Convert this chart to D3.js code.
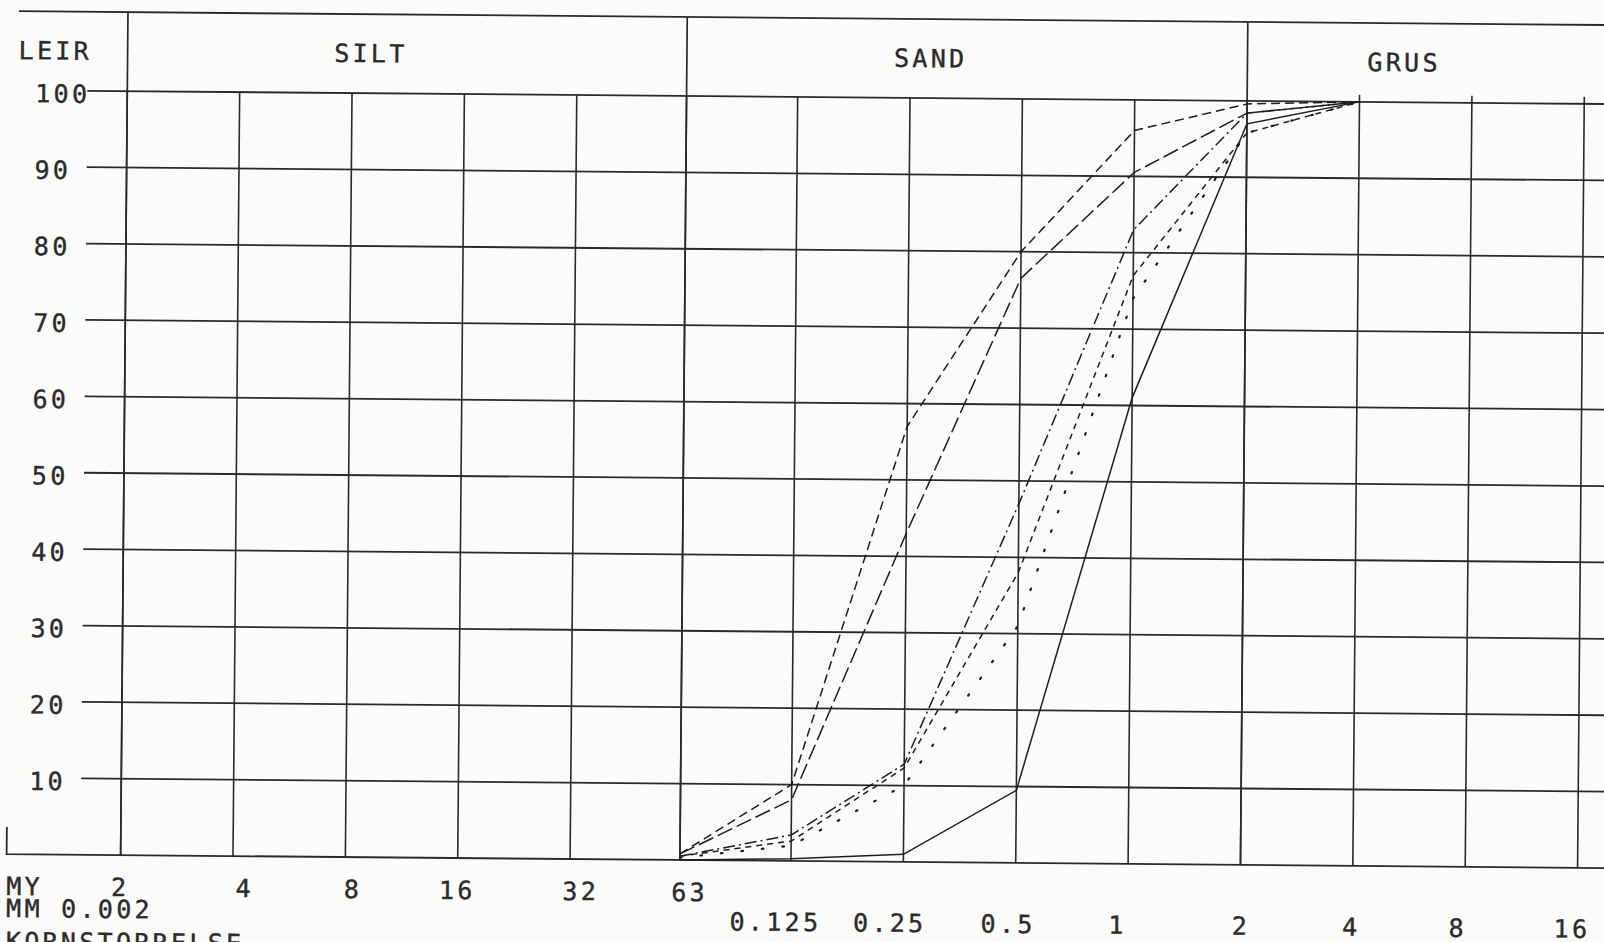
<!DOCTYPE html>
<html>
<head>
<meta charset="utf-8">
<script src="https://cdn.jsdelivr.net/npm/d3@7/dist/d3.min.js"></script>
<style>
body { margin: 0; background: #fbfbf9; }
svg { display: block; }
text { font-family: "DejaVu Sans Mono", monospace; font-size: 25px; fill: #2b2b2b; letter-spacing: 3.3px; stroke: #2b2b2b; stroke-width: 0.4px; }
</style>
</head>
<body>
<svg id="chart" width="1604" height="942"></svg>
<script>
'use strict';

// sieve sizes in mm and cumulative % passing for each sample
var sieveSizes = [0.063, 0.125, 0.25, 0.5, 1, 2, 4];
var sample1 = [0.8, 10, 57, 80, 96, 99.6, 100];
var sample2 = [0.8, 8, 43, 76.5, 90.5, 98.4, 100];
var sample3 = [0.5, 3.4, 12.8, 47, 83, 98.4, 100];
var sample4 = [0.5, 2.6, 12.3, 38, 77, 95.8, 100];
var sample5 = [0.3, 2.0, 10, 31, 74, 95.8, 100];
var sample6 = [0, 0.3, 1, 9.5, 61, 97, 100];

var gridSizes = [0.002, 0.004, 0.008, 0.016, 0.032, 0.063, 0.125, 0.25, 0.5, 1, 2, 4, 8, 16];
var myTicks = [0.002, 0.004, 0.008, 0.016, 0.032, 0.063];
var myLabels = ['2', '4', '8', '16', '32', '63'];
var mmTicks = [0.125, 0.25, 0.5, 1, 2, 4, 8, 16];
var mmLabels = ['0.125', '0.25', '0.5', '1', '2', '4', '8', '16'];
var percentTicks = [10, 20, 30, 40, 50, 60, 70, 80, 90, 100];
var fractionNames = ['SILT', 'SAND', 'GRUS'];
var fractionBounds = [0.002, 0.063, 2];

// the plotter put its size labels a little off the grid lines
var myNudge = [0, 12, 8, 0, 11, 10];
var mmNudge = [-15, -13, -7, -10, 1, -1, -7, -5];

var W = 1604;
var x = d3.scaleLog().base(2).domain([0.002, 16]).range([124, 1581]);
var y = d3.scaleLinear().domain([0, 100]).range([860, 96]);
var topY = 17, gridLeft = 84;

var svg = d3.select('#chart');
// the scanned sheet sits slightly skewed
var g = svg.append('g').attr('transform', 'rotate(0.5,684,470)');

var ink = '#2a2a2a';

// frame: top line and fraction dividers
g.append('line')
    .attr('x1', 15).attr('x2', W + 20)
    .attr('y1', topY).attr('y2', topY)
    .attr('stroke', ink).attr('stroke-width', 1.8);

g.selectAll('line.divider')
    .data(fractionBounds)
    .enter().append('line')
        .attr('class', 'divider')
        .attr('x1', x).attr('x2', x)
        .attr('y1', topY).attr('y2', y(0))
        .attr('stroke', ink).attr('stroke-width', 1.7);

// vertical grid
g.selectAll('line.vgrid')
    .data(gridSizes)
    .enter().append('line')
        .attr('class', 'vgrid')
        .attr('x1', x).attr('x2', x)
        .attr('y1', function(d) { return d > 2 ? y(100) - 7 : y(100); })
        .attr('y2', y(0))
        .attr('stroke', ink).attr('stroke-width', 1.6);

// horizontal grid
g.selectAll('line.hgrid')
    .data(percentTicks)
    .enter().append('line')
        .attr('class', 'hgrid')
        .attr('x1', gridLeft).attr('x2', W + 20)
        .attr('y1', y).attr('y2', y)
        .attr('stroke', ink).attr('stroke-width', 1.8);

// base line with the small corner mark
g.append('path')
    .attr('d', 'M10,' + (y(0) - 27) + 'V' + y(0) + 'H' + (W + 20))
    .attr('fill', 'none')
    .attr('stroke', ink).attr('stroke-width', 1.8);

// header texts
g.append('text').attr('x', 15).attr('y', 65).text('LEIR');

var bandEnds = fractionBounds.slice(1).map(x).concat([W]);
g.selectAll('text.band')
    .data(fractionNames)
    .enter().append('text')
        .attr('class', 'band')
        .attr('text-anchor', 'middle')
        .attr('x', function(d, i) {
            var x0 = x(fractionBounds[i]);
            return x0 + 0.435 * (bandEnds[i] - x0);
        })
        .attr('y', 65)
        .text(function(d) { return d; });

// percent labels
g.selectAll('text.pct')
    .data(percentTicks)
    .enter().append('text')
        .attr('class', 'pct')
        .attr('x', 32)
        .attr('y', function(d) { return y(d) + 12; })
        .text(function(d) { return d; });

// size labels
g.append('text').attr('x', 10).attr('y', 901).text('MY');
g.append('text').attr('x', 10).attr('y', 923).text('MM 0.002');
g.append('text').attr('x', 10).attr('y', 956).text('KORNSTORRELSE');

g.selectAll('text.my')
    .data(myTicks)
    .enter().append('text')
        .attr('class', 'my')
        .attr('text-anchor', 'middle')
        .attr('x', function(d, i) { return x(d) + myNudge[i]; })
        .attr('y', 901)
        .text(function(d, i) { return myLabels[i]; });

g.selectAll('text.mm')
    .data(mmTicks)
    .enter().append('text')
        .attr('class', 'mm')
        .attr('text-anchor', 'middle')
        .attr('x', function(d, i) { return x(d) + mmNudge[i]; })
        .attr('y', 930)
        .text(function(d, i) { return mmLabels[i]; });

// grading curves
var samples = [
    {values: sample1, dash: '9,5'},
    {values: sample2, dash: '16,5'},
    {values: sample3, dash: '12,4,2,4'},
    {values: sample4, dash: '6,5'},
    {values: sample5, dash: '1.6,19'},
    {values: sample6, dash: null}
];

var line = d3.line()
    .x(function(d) { return x(d[0]); })
    .y(function(d) { return y(d[1]); });

g.selectAll('path.curve')
    .data(samples)
    .enter().append('path')
        .attr('class', 'curve')
        .attr('d', function(s) { return line(d3.zip(sieveSizes, s.values)); })
        .attr('fill', 'none')
        .attr('stroke', '#1e1e1e')
        .attr('stroke-width', function(s) { return s.dash === '1.6,19' ? 2.2 : 1.5; })
        .attr('stroke-linecap', function(s) { return s.dash === '1.6,19' ? 'round' : 'butt'; })
        .attr('stroke-dasharray', function(s) { return s.dash; });
</script>
</body>
</html>
